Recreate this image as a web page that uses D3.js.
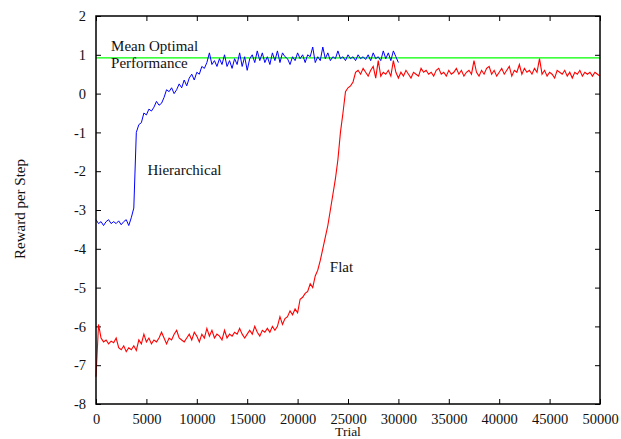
<!DOCTYPE html>
<html>
<head>
<meta charset="utf-8">
<script src="https://cdn.jsdelivr.net/npm/d3@7"></script>
<style>
  body { margin: 0; background: #fff; }
  text { font-family: "Liberation Serif", "Times New Roman", serif; fill: #111; }
  .tick line { stroke: #000; }
  .domain { display: none; }
</style>
</head>
<body>
<svg id="chart" width="621" height="439"></svg>
<script>
// sample spacing of the curves (trials)
var step = 250;

// Hierarchical, every 250 trials from 0 to 30000
var hierValues = [
  -3.25,-3.35,-3.3,-3.4,-3.3,-3.25,-3.35,-3.3,
  -3.35,-3.28,-3.38,-3.3,-3.25,-3.4,-3.2,-2.95,
  -1.0,-0.8,-0.75,-0.5,-0.55,-0.4,-0.45,-0.35,
  -0.2,-0.3,-0.25,-0.1,0.1,0.05,0.15,0.0,
  0.1,0.25,0.15,0.35,0.2,0.4,0.5,0.35,
  0.55,0.5,0.7,0.65,0.8,1.05,0.75,0.85,
  0.7,0.9,0.75,1.0,0.7,0.85,0.65,0.9,
  0.75,1.05,0.7,0.95,0.6,0.9,1.0,0.8,
  1.1,0.85,1.05,0.8,0.95,0.75,1.05,0.85,
  1.1,0.8,1.05,0.95,0.9,0.75,0.95,0.85,
  1.05,0.9,1.0,0.8,1.0,0.95,1.2,0.8,
  0.95,0.85,1.2,0.9,1.05,0.85,0.95,0.9,
  1.1,0.9,0.95,0.85,1.0,0.9,0.95,0.85,
  1.0,0.9,0.95,0.88,1.0,0.85,1.05,0.9,
  0.95,0.85,1.1,0.9,1.05,0.85,1.1,0.95,
  0.8
];

// Flat, every 250 trials from 0 to 50000
var flatValues = [
  -7.3,-5.95,-6.3,-6.4,-6.35,-6.45,-6.38,-6.42,
  -6.3,-6.55,-6.6,-6.5,-6.65,-6.55,-6.6,-6.5,
  -6.62,-6.35,-6.45,-6.2,-6.4,-6.3,-6.45,-6.35,
  -6.4,-6.3,-6.15,-6.3,-6.45,-6.3,-6.35,-6.2,
  -6.1,-6.3,-6.35,-6.4,-6.3,-6.2,-6.35,-6.15,
  -6.25,-6.4,-6.2,-6.3,-6.05,-6.25,-6.1,-6.3,
  -6.2,-6.25,-6.35,-6.1,-6.3,-6.2,-6.25,-6.15,
  -6.2,-6.05,-6.2,-6.3,-6.2,-6.1,-6.2,-6.0,
  -6.15,-6.25,-6.1,-6.15,-6.05,-6.15,-6.0,-6.1,
  -6.0,-5.75,-5.95,-5.8,-5.75,-5.6,-5.7,-5.55,
  -5.65,-5.3,-5.25,-5.15,-5.1,-4.9,-5.0,-4.7,
  -4.55,-4.3,-4.0,-3.7,-3.4,-3.0,-2.6,-2.2,
  -1.7,-1.0,-0.5,0.05,0.15,0.2,0.3,0.55,
  0.6,0.5,0.65,0.55,0.45,0.6,0.7,0.4,
  0.85,0.45,0.55,0.5,0.6,0.45,0.85,0.55,
  0.4,0.55,0.45,0.6,0.5,0.4,0.55,0.5,
  0.45,0.65,0.55,0.6,0.5,0.55,0.45,0.6,
  0.65,0.5,0.55,0.45,0.6,0.5,0.55,0.65,
  0.5,0.6,0.45,0.55,0.6,0.5,0.85,0.55,
  0.45,0.6,0.5,0.65,0.7,0.5,0.6,0.45,
  0.55,0.65,0.5,0.6,0.7,0.45,0.6,0.55,
  0.75,0.5,0.65,0.55,0.6,0.5,0.65,0.55,
  0.9,0.5,0.6,0.45,0.55,0.5,0.4,0.6,
  0.55,0.5,0.6,0.45,0.55,0.4,0.55,0.5,
  0.6,0.45,0.55,0.5,0.55,0.45,0.55,0.5,
  0.45
];

var optimal = 0.92;

var xTicks = [0, 5000, 10000, 15000, 20000, 25000, 30000, 35000, 40000, 45000, 50000];
var yTicks = [-8, -7, -6, -5, -4, -3, -2, -1, 0, 1, 2];

var labels = [
  {text: "Mean Optimal", x: 1500, y: 1.1},
  {text: "Performance", x: 1500, y: 0.65},
  {text: "Hierarchical", x: 5100, y: -2.1},
  {text: "Flat", x: 23200, y: -4.6}
];

var margin = {left: 96, right: 21, top: 16, bottom: 35};
var width = 621 - margin.left - margin.right;
var height = 439 - margin.top - margin.bottom;

var svg = d3.select("#chart");
var g = svg.append("g")
  .attr("transform", "translate(" + margin.left + "," + margin.top + ")");

var xScale = d3.scaleLinear().domain([0, 50000]).range([0, width]);
var yScale = d3.scaleLinear().domain([-8, 2]).range([height, 0]);

// plain numbers, ascii minus
var plain = function(d) { return String(d); };

function toPoints(values) {
  return values.map(function(v, i) { return {t: i * step, v: v}; });
}

var line = d3.line()
  .x(function(d) { return xScale(d.t); })
  .y(function(d) { return yScale(d.v); });

// axes, ticks pointing inward
g.append("g")
  .attr("transform", "translate(0," + height + ")")
  .call(d3.axisBottom(xScale).tickValues(xTicks).tickSize(-5).tickSizeOuter(0).tickPadding(10).tickFormat(plain))
  .selectAll("text").style("font-size", "14.5px");

g.append("g")
  .call(d3.axisTop(xScale).tickValues(xTicks).tickSize(-5).tickSizeOuter(0).tickFormat(""));

g.append("g")
  .call(d3.axisLeft(yScale).tickValues(yTicks).tickSize(-5).tickSizeOuter(0).tickPadding(10).tickFormat(plain))
  .selectAll("text").style("font-size", "14.5px");

g.append("g")
  .attr("transform", "translate(" + width + ",0)")
  .call(d3.axisRight(yScale).tickValues(yTicks).tickSize(-5).tickSizeOuter(0).tickFormat(""));

svg.selectAll("g").attr("font-family", null);

// optimal line
g.append("line")
  .attr("x1", 0)
  .attr("x2", width)
  .attr("y1", yScale(optimal))
  .attr("y2", yScale(optimal))
  .attr("stroke", "#00ff00")
  .attr("stroke-width", 1.2);

g.append("path")
  .datum(toPoints(flatValues))
  .attr("d", line)
  .attr("fill", "none")
  .attr("stroke", "#ff0000")
  .attr("stroke-width", 1.1);

g.append("path")
  .datum(toPoints(hierValues))
  .attr("d", line)
  .attr("fill", "none")
  .attr("stroke", "#0000ff")
  .attr("stroke-width", 1);

// frame
g.append("rect")
  .attr("width", width)
  .attr("height", height)
  .attr("fill", "none")
  .attr("stroke", "#000")
  .attr("stroke-width", 1.5);

g.selectAll("text.note")
  .data(labels)
  .enter()
  .append("text")
  .attr("class", "note")
  .attr("x", function(d) { return xScale(d.x); })
  .attr("y", function(d) { return yScale(d.y); })
  .style("font-size", "15px")
  .text(function(d) { return d.text; });

svg.append("text")
  .attr("x", margin.left + width / 2)
  .attr("y", 436)
  .attr("text-anchor", "middle")
  .style("font-size", "13.5px")
  .text("Trial");

svg.append("text")
  .attr("transform", "translate(25,209) rotate(-90)")
  .attr("text-anchor", "middle")
  .style("font-size", "15px")
  .text("Reward per Step");
</script>
</body>
</html>
